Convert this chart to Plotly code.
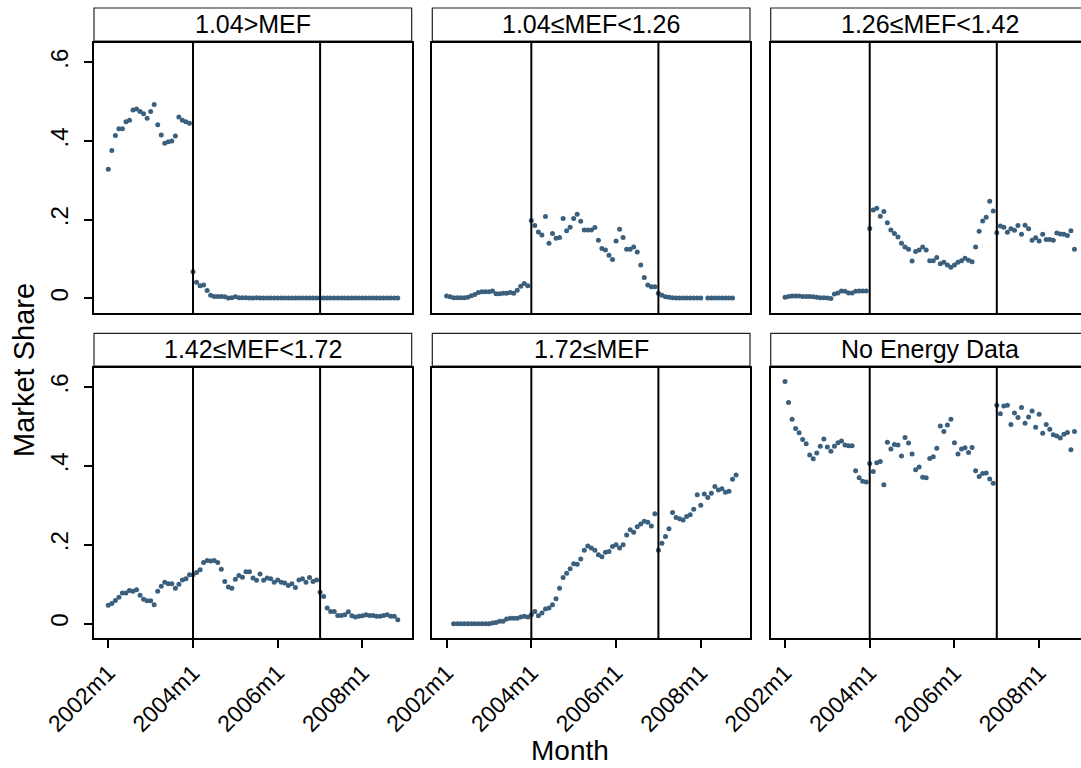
import plotly.graph_objects as go

# ---- data: monthly market share by MEF class, 2002m1 .. 2008m11 ----
month_idx = list(range(83))          # 0 = 2002m1
tick_months = [0, 24, 48, 72]
tick_labels = ["2002m1", "2004m1", "2006m1", "2008m1"]
policy_months = [24, 60]             # 2004m1, 2007m1

panel_titles = ["1.04>MEF", "1.04\u2264MEF<1.26", "1.26\u2264MEF<1.42",
                "1.42\u2264MEF<1.72", "1.72\u2264MEF", "No Energy Data"]

share_lt104 = [
    0.328, 0.376, 0.414, 0.431, 0.431, 0.449, 0.453, 0.479, 0.481, 0.475, 0.469, 0.458,
    0.475, 0.493, 0.441, 0.415, 0.394, 0.398, 0.400, 0.413, 0.461, 0.453, 0.449, 0.445,
    0.068, 0.041, 0.032, 0.034, 0.020, 0.008, 0.005, 0.005, 0.005, 0.004, 0.001, 0.002,
    0.004, 0.002, 0.002, 0.002, 0.001, 0.001, 0.002, 0.001, 0.001, 0.001, 0.001, 0.001,
    0.001, 0.001, 0.001, 0.001, 0.001, 0.001, 0.001, 0.001, 0.001, 0.001, 0.001, 0.001,
    0.001, 0.001, 0.001, 0.001, 0.001, 0.001, 0.001, 0.001, 0.001, 0.001, 0.001, 0.001,
    0.001, 0.001, 0.001, 0.001, 0.001, 0.001, 0.001, 0.001, 0.001, 0.001, 0.001,
]
share_104_126 = [
    0.006, 0.004, 0.002, 0.002, 0.002, 0.002, 0.003, 0.007, 0.010, 0.015, 0.017, 0.017,
    0.017, 0.019, 0.012, 0.012, 0.013, 0.013, 0.015, 0.013, 0.021, 0.031, 0.038, 0.032,
    0.198, 0.185, 0.169, 0.161, 0.208, 0.140, 0.165, 0.153, 0.155, 0.203, 0.172, 0.181,
    0.203, 0.214, 0.196, 0.174, 0.174, 0.174, 0.180, 0.148, 0.127, 0.123, 0.110, 0.099,
    0.146, 0.176, 0.155, 0.125, 0.125, 0.131, 0.118, 0.085, 0.053, 0.034, 0.030, 0.030,
    0.013, 0.008, 0.004, 0.003, 0.002, 0.001, 0.001, 0.001, 0.001, 0.001, 0.001, 0.001,
    0.001, None, 0.001, 0.001, 0.001, 0.001, 0.001, 0.001, 0.001, 0.001, None,
]
share_126_142 = [
    0.003, 0.005, 0.006, 0.006, 0.006, 0.005, 0.005, 0.005, 0.004, 0.003, 0.002, 0.002,
    0.001, 0.000, 0.011, 0.014, 0.019, 0.018, 0.014, 0.014, 0.018, 0.019, 0.019, 0.019,
    0.178, 0.225, 0.229, 0.209, 0.221, 0.192, 0.174, 0.165, 0.156, 0.140, 0.131, 0.125,
    0.095, 0.119, 0.123, 0.131, 0.123, 0.096, 0.096, 0.104, 0.088, 0.092, 0.085, 0.079,
    0.085, 0.092, 0.096, 0.102, 0.097, 0.093, 0.131, 0.171, 0.197, 0.206, 0.247, 0.222,
    0.167, 0.184, 0.181, 0.168, 0.177, 0.173, 0.185, 0.163, 0.186, 0.177, 0.148, 0.154,
    0.146, 0.163, 0.150, 0.150, 0.148, 0.166, 0.164, 0.163, 0.160, 0.172, 0.125,
]
share_142_172 = [
    0.047, 0.051, 0.059, 0.067, 0.078, 0.078, 0.084, 0.082, 0.086, 0.072, 0.062, 0.058,
    0.058, 0.048, 0.082, 0.095, 0.105, 0.101, 0.101, 0.090, 0.100, 0.111, 0.114, 0.124,
    0.124, 0.130, 0.137, 0.155, 0.160, 0.159, 0.160, 0.155, 0.138, 0.107, 0.093, 0.090,
    0.113, 0.122, 0.118, 0.132, 0.132, 0.116, 0.110, 0.126, 0.110, 0.116, 0.114, 0.105,
    0.111, 0.105, 0.103, 0.097, 0.101, 0.092, 0.111, 0.114, 0.105, 0.117, 0.107, 0.111,
    0.080, 0.069, 0.040, 0.031, 0.031, 0.021, 0.021, 0.023, 0.030, 0.020, 0.017, 0.019,
    0.020, 0.023, 0.021, 0.021, 0.019, 0.019, 0.021, 0.023, 0.019, 0.019, 0.010,
]
share_ge172 = [
    None, None, 0.000, 0.000, 0.000, 0.000, 0.000, 0.000, 0.000, 0.000, 0.000, 0.000,
    0.000, 0.002, 0.003, 0.006, 0.006, 0.012, 0.014, 0.014, 0.014, 0.017, 0.019, 0.017,
    0.023, 0.031, 0.020, 0.027, 0.037, 0.040, 0.048, 0.063, 0.090, 0.117, 0.128, 0.139,
    0.152, 0.151, 0.164, 0.186, 0.197, 0.192, 0.186, 0.175, 0.170, 0.181, 0.183, 0.196,
    0.200, 0.192, 0.200, 0.225, 0.238, 0.232, 0.246, 0.253, 0.260, 0.257, 0.248, 0.279,
    0.186, 0.204, 0.221, 0.241, 0.282, 0.269, 0.266, 0.263, 0.272, 0.276, 0.290, 0.327,
    0.300, 0.329, 0.320, 0.331, 0.348, 0.339, 0.342, 0.333, 0.336, 0.366, 0.377,
]
share_noenergy = [
    0.614, 0.561, 0.518, 0.495, 0.484, 0.467, 0.456, 0.428, 0.418, 0.433, 0.450, 0.468,
    0.448, 0.437, 0.450, 0.459, 0.463, 0.453, 0.451, 0.451, 0.388, 0.370, 0.361, 0.359,
    0.406, 0.386, 0.408, 0.411, 0.352, 0.460, 0.443, 0.454, 0.453, 0.425, 0.472, 0.458,
    0.430, 0.390, 0.397, 0.371, 0.370, 0.419, 0.423, 0.445, 0.501, 0.487, 0.504, 0.518,
    0.459, 0.430, 0.443, 0.446, 0.434, 0.447, 0.388, 0.373, 0.381, 0.382, 0.367, 0.356,
    0.554, 0.532, 0.552, 0.554, 0.505, 0.534, 0.523, 0.548, 0.508, 0.524, 0.539, 0.498,
    0.531, 0.483, 0.505, 0.493, 0.479, 0.476, 0.471, 0.480, 0.485, 0.441, 0.487,
]

y_ticks = [0, 0.2, 0.4, 0.6]
y_tick_labels = ["0", ".2", ".4", ".6"]

series = [share_lt104, share_104_126, share_126_142,
          share_142_172, share_ge172, share_noenergy]

# ---- layout geometry (pixels) ----
W, H = 1081, 768
FONT = "Liberation Sans, Arial, Helvetica, sans-serif"
MARKER = "#3b607e"

col_px = [(94.0, 411.7), (432.3, 750.0), (770.7, 1089.0)]
row_px = [(43.0, 313.0), (367.7, 638.3)]          # plot area top/bottom
strip_px = [(8.0, 41.0), (333.3, 366.0)]          # title strip top/bottom
px_per_month = 3.53
x_lo = -4.05
y_range = [-0.037, 0.649]


def px_x(v):
    return v / W


def px_y(v):
    return 1 - v / H


fig = go.Figure()
shapes = []
annotations = []

for i, (title, vals) in enumerate(zip(panel_titles, series)):
    r, c = divmod(i, 3)
    n = i + 1
    xa = "x" if n == 1 else f"x{n}"
    ya = "y" if n == 1 else f"y{n}"
    x0p, x1p = col_px[c]
    visible_right = min(x1p, W)
    x_hi = x_lo + (visible_right - x0p) / px_per_month

    fig.add_trace(go.Scatter(
        x=month_idx, y=vals, mode="markers",
        marker=dict(size=5, color=MARKER, line=dict(width=0)),
        xaxis=xa, yaxis=ya, showlegend=False, hoverinfo="x+y",
    ))

    bottom = (r == 1)
    left = (c == 0)
    fig.layout[f"xaxis{'' if n == 1 else n}"] = dict(
        domain=[px_x(x0p), px_x(visible_right)],
        range=[x_lo, x_hi], anchor=ya, automargin=False,
        showline=True, linecolor="black", linewidth=1.8, mirror=True,
        showgrid=False, zeroline=False,
        ticks="outside" if bottom else "", ticklen=8, tickwidth=1.6, tickcolor="black",
        tickvals=tick_months, ticktext=tick_labels, showticklabels=bottom,
        tickangle=-45, ticklabelstandoff=2,
        tickfont=dict(family=FONT, size=23, color="black"),
    )
    fig.layout[f"yaxis{'' if n == 1 else n}"] = dict(
        domain=[px_y(row_px[r][1]), px_y(row_px[r][0])],
        range=y_range, anchor=xa, automargin=False,
        showline=True, linecolor="black", linewidth=1.8, mirror=(c < 2),
        showgrid=False, zeroline=False,
        ticks="outside" if left else "", ticklen=8, tickwidth=1.6, tickcolor="black",
        tickvals=y_ticks, ticktext=y_tick_labels, showticklabels=left,
        tickangle=-90, ticklabelstandoff=7,
        tickfont=dict(family=FONT, size=24, color="black"),
    )

    # policy change markers
    for m in policy_months:
        shapes.append(dict(type="line", xref=xa, yref=f"{ya} domain",
                           x0=m, x1=m, y0=0, y1=1,
                           line=dict(color="black", width=2)))

    # title strip
    s0, s1 = strip_px[r]
    shapes.append(dict(type="rect", xref="paper", yref="paper",
                       x0=px_x(x0p), x1=px_x(x1p), y0=px_y(s1), y1=px_y(s0),
                       fillcolor="white", line=dict(color="#222222", width=1.2),
                       layer="below"))
    annotations.append(dict(text=title, xref="paper", yref="paper",
                            x=px_x((x0p + x1p) / 2), y=px_y((s0 + s1) / 2 - 1),
                            xanchor="center", yanchor="middle", showarrow=False,
                            font=dict(family=FONT, size=25, color="black")))

annotations.append(dict(text="Market Share", xref="paper", yref="paper",
                        x=px_x(24), y=px_y(370), textangle=-90,
                        xanchor="center", yanchor="middle", showarrow=False,
                        font=dict(family=FONT, size=29, color="black")))
annotations.append(dict(text="Month", xref="paper", yref="paper",
                        x=px_x(570), y=px_y(750),
                        xanchor="center", yanchor="middle", showarrow=False,
                        font=dict(family=FONT, size=28, color="black")))

fig.update_layout(
    width=W, height=H,
    margin=dict(l=0, r=0, t=0, b=0),
    paper_bgcolor="white", plot_bgcolor="white",
    shapes=shapes, annotations=annotations,
    font=dict(family=FONT, color="black"),
)

fig.write_html("out.html")
